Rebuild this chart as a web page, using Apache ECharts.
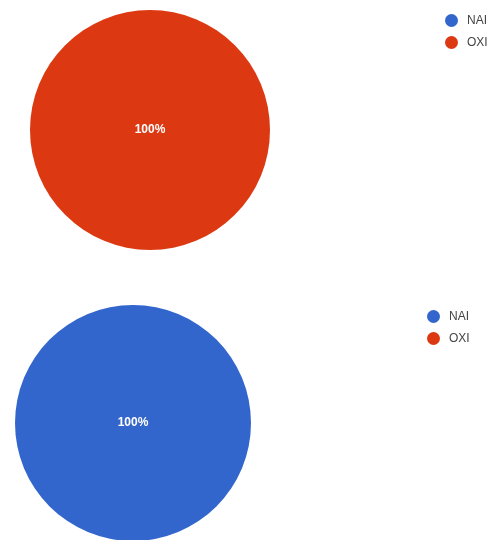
<!DOCTYPE html>
<html>
<head>
<meta charset="utf-8">
<script src="https://cdn.jsdelivr.net/npm/echarts@6/dist/echarts.min.js"></script>
<style>
  html, body { margin: 0; padding: 0; background: #fff; }
  #chart { width: 496px; height: 540px; }
</style>
</head>
<body>
<div id="chart"></div>
<script>
const categories = ["NAI", "OXI"];
const topValues = [0, 1];
const bottomValues = [1, 0];
const palette = ["#3366cc", "#dc3912"];

const chart = echarts.init(document.getElementById("chart"));

const makeData = (values) =>
  categories.map((name, i) => ({
    name: name,
    value: values[i],
    label: { show: values[i] > 0 },
  }));

const legendBase = {
  orient: "vertical",
  icon: "circle",
  itemWidth: 13,
  itemHeight: 13,
  itemGap: 9,
  textStyle: {
    fontFamily: "Liberation Sans, Arial, sans-serif",
    fontSize: 12,
    color: "#444",
    padding: [0, 0, 0, 4],
  },
  data: categories,
};

const pieBase = {
  type: "pie",
  startAngle: 90,
  stillShowZeroSum: false,
  avoidLabelOverlap: false,
  emphasis: { scale: false },
  labelLine: { show: false },
  label: {
    position: "center",
    formatter: "{d}%",
    color: "#fff",
    fontSize: 12,
    fontWeight: "bold",
    fontFamily: "Liberation Sans, Arial, sans-serif",
  },
};

const option = {
  color: palette,
  animation: false,
  legend: [
    { ...legendBase, left: 440, top: 9 },
    { ...legendBase, left: 422, top: 305 },
  ],
  series: [
    {
      ...pieBase,
      center: [150, 130],
      radius: [0, 120],
      data: makeData(topValues),
    },
    {
      ...pieBase,
      center: [133, 423],
      radius: [0, 118],
      data: makeData(bottomValues),
    },
  ],
};

chart.setOption(option);
</script>
</body>
</html>
